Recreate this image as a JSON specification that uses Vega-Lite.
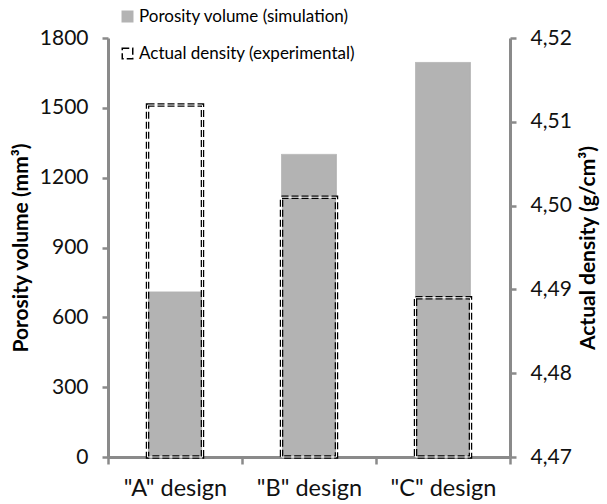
{
  "$schema": "https://vega.github.io/schema/vega-lite/v6.json",
  "width": 402,
  "height": 419,
  "autosize": {"type": "none"},
  "padding": {"left": 108, "top": 38, "right": 97, "bottom": 47},
  "config": {
    "view": {"stroke": null},
    "font": "Lato",
    "axis": {
      "domainColor": "#8a8a8a",
      "domainWidth": 3,
      "tickColor": "#8a8a8a",
      "tickWidth": 2.5,
      "tickSize": 6,
      "labelColor": "#111111",
      "labelFont": "Lato",
      "labelFontSize": 21,
      "titleFont": "Lato",
      "titleFontSize": 21,
      "titleFontWeight": "bold",
      "titleColor": "#000000",
      "grid": false
    }
  },
  "datasets": {
    "porosity": [
      {"design": "\"A\" design", "value": 709, "series": "Porosity volume (simulation)"},
      {"design": "\"B\" design", "value": 1300, "series": "Porosity volume (simulation)"},
      {"design": "\"C\" design", "value": 1695, "series": "Porosity volume (simulation)"}
    ],
    "density": [
      {"design": "\"A\" design", "value": 4.512, "series": "Actual density (experimental)"},
      {"design": "\"B\" design", "value": 4.501, "series": "Actual density (experimental)"},
      {"design": "\"C\" design", "value": 4.489, "series": "Actual density (experimental)"}
    ]
  },
  "encoding": {
    "x": {
      "field": "design",
      "type": "nominal",
      "sort": null,
      "scale": {"paddingInner": 0, "paddingOuter": 0},
      "axis": {"title": null, "labelAngle": 0, "tickBand": "extent", "labelPadding": 12, "labelFontSize": 23.5, "tickSize": 7}
    }
  },
  "layer": [
    {
      "data": {"name": "porosity"},
      "mark": {"type": "bar", "width": {"band": 0.41}, "strokeWidth": 1},
      "encoding": {
        "y": {
          "field": "value",
          "type": "quantitative",
          "scale": {"domain": [0, 1800], "nice": false},
          "axis": {"values": [0, 300, 600, 900, 1200, 1500, 1800], "format": "d", "title": "Porosity volume (mm³)", "labelPadding": 14, "titlePadding": 8, "orient": "left"}
        },
        "fill": {
          "field": "series", "type": "nominal",
          "scale": {"domain": ["Porosity volume (simulation)", "Actual density (experimental)"], "range": ["#b3b3b3", "transparent"]},
          "legend": {"title": null, "orient": "none", "legendX": 11, "legendY": -30, "symbolType": "square", "symbolSize": 110, "labelFontSize": 17, "labelFont": "Lato", "labelLimit": 400, "rowPadding": 19, "symbolStrokeWidth": 1.5, "labelOffset": 3}
        },
        "stroke": {
          "field": "series", "type": "nominal",
          "scale": {"domain": ["Porosity volume (simulation)", "Actual density (experimental)"], "range": ["#b3b3b3", "#000000"]},
          "legend": {"title": null, "orient": "none", "legendX": 11, "legendY": -30, "symbolType": "square", "symbolSize": 110, "labelFontSize": 17, "labelFont": "Lato", "labelLimit": 400, "rowPadding": 19, "symbolStrokeWidth": 1.5, "labelOffset": 3}
        },
        "strokeDash": {
          "field": "series", "type": "nominal",
          "scale": {"domain": ["Porosity volume (simulation)", "Actual density (experimental)"], "range": [[1, 0], [7, 3]]},
          "legend": {"title": null, "orient": "none", "legendX": 11, "legendY": -30, "symbolType": "square", "symbolSize": 110, "labelFontSize": 17, "labelFont": "Lato", "labelLimit": 400, "rowPadding": 19, "symbolStrokeWidth": 1.5, "labelOffset": 3}
        }
      }
    },
    {
      "data": {"name": "density"},
      "encoding": {
        "y": {
          "field": "value",
          "type": "quantitative",
          "scale": {"domain": [4.47, 4.52], "nice": false, "zero": false},
          "axis": {"values": [4.47, 4.48, 4.49, 4.5, 4.51, 4.52], "labelExpr": "replace(format(datum.value, '.2f'), '.', ',')", "title": "Actual  density (g/cm³)", "orient": "right", "labelPadding": 14, "titlePadding": 6, "titleAngle": 270, "titleBaseline": "top"}
        },
        "y2": {"datum": 4.47}
      },
      "layer": [
        {
          "mark": {"type": "bar", "width": {"band": 0.41}, "strokeWidth": 3.5},
          "encoding": {
            "fill": {"field": "series", "type": "nominal"},
            "stroke": {"field": "series", "type": "nominal"},
            "strokeDash": {"field": "series", "type": "nominal"}
          }
        },
        {
          "mark": {"type": "bar", "width": {"band": 0.41}, "fill": null, "stroke": "white", "strokeWidth": 1},
          "encoding": {}
        }
      ]
    }
  ],
  "resolve": {"scale": {"y": "independent"}}
}
